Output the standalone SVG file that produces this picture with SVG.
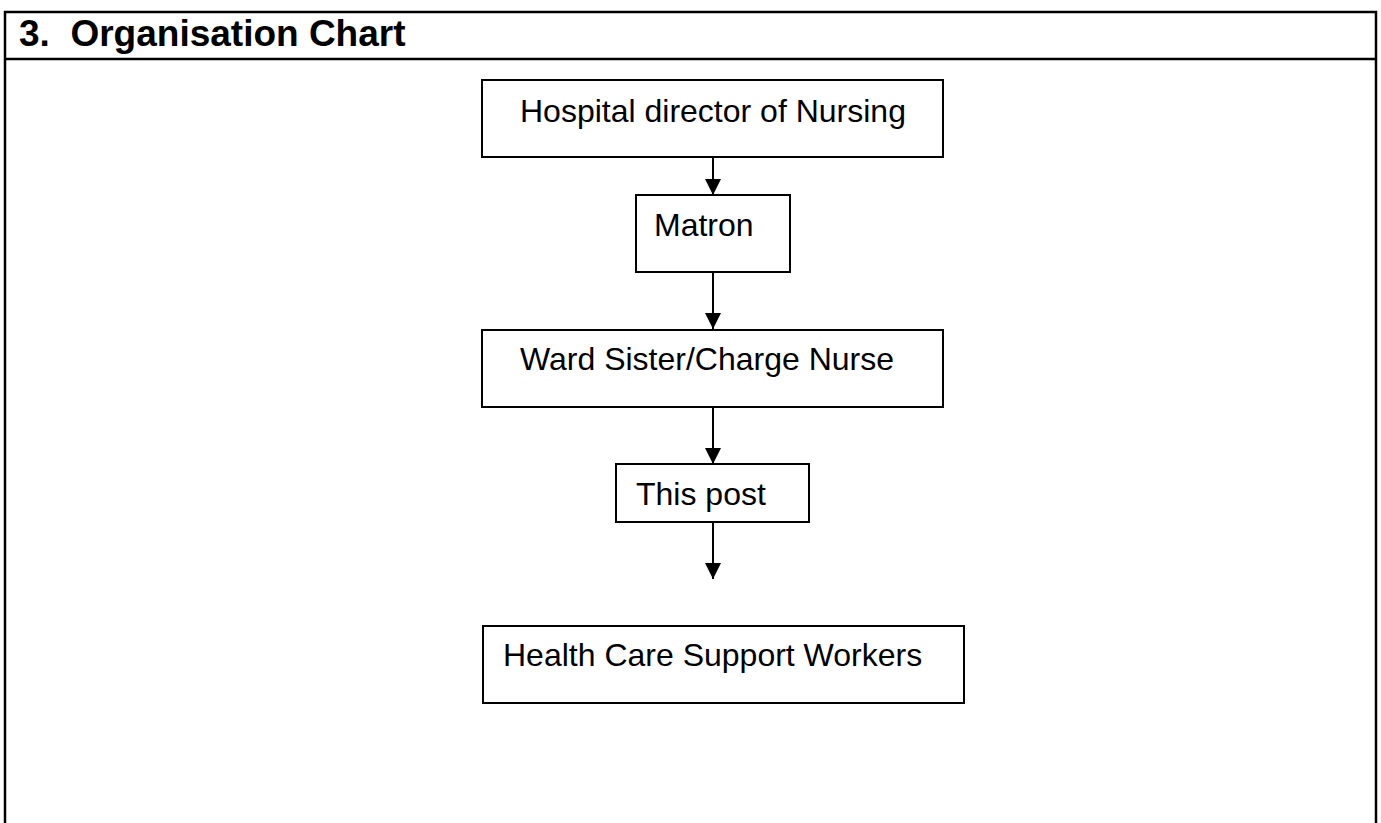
<svg xmlns="http://www.w3.org/2000/svg" width="1381" height="823" viewBox="0 0 1381 823">
  <style>
    .frame { fill: none; stroke: #000; stroke-width: 2.5; }
    .box { fill: #fff; stroke: #000; stroke-width: 2; }
    .lbl { font-family: "Liberation Sans", Arial, sans-serif; font-size: 32px; fill: #000; }
    .title { font-family: "Liberation Sans", Arial, sans-serif; font-size: 37px; font-weight: bold; fill: #000; }
    .conn { stroke: #000; stroke-width: 2; fill: none; }
  </style>
  <defs>
    <marker id="arrow" markerUnits="userSpaceOnUse" markerWidth="16" markerHeight="18" refX="16" refY="8" orient="auto">
      <path d="M0,0 L16,8 L0,16 Z" fill="#000"/>
    </marker>
  </defs>
  <rect width="1381" height="823" fill="#fff"/>
  <g id="frame">
    <rect class="frame" x="5" y="12" width="1371" height="840"/>
    <line class="frame" x1="5" y1="59" x2="1376" y2="59"/>
    <text class="title" x="19" y="46" xml:space="preserve">3.  Organisation Chart</text>
  </g>
  <g id="connectors">
    <line class="conn" x1="713" y1="157" x2="713" y2="195" marker-end="url(#arrow)"/>
    <line class="conn" x1="713" y1="272" x2="713" y2="329" marker-end="url(#arrow)"/>
    <line class="conn" x1="713" y1="407" x2="713" y2="464" marker-end="url(#arrow)"/>
    <line class="conn" x1="713" y1="522" x2="713" y2="579" marker-end="url(#arrow)"/>
  </g>
  <g id="node-director">
    <rect class="box" x="482" y="80" width="461" height="77"/>
    <text class="lbl" x="520" y="122">Hospital director of Nursing</text>
  </g>
  <g id="node-matron">
    <rect class="box" x="636" y="195" width="154" height="77"/>
    <text class="lbl" x="654" y="236">Matron</text>
  </g>
  <g id="node-ward">
    <rect class="box" x="482" y="330" width="461" height="77"/>
    <text class="lbl" x="520" y="370">Ward Sister/Charge Nurse</text>
  </g>
  <g id="node-post">
    <rect class="box" x="616" y="464" width="193" height="58"/>
    <text class="lbl" x="636" y="505">This post</text>
  </g>
  <g id="node-hcsw">
    <rect class="box" x="483" y="626" width="481" height="77"/>
    <text class="lbl" x="503" y="666">Health Care Support Workers</text>
  </g>
</svg>
